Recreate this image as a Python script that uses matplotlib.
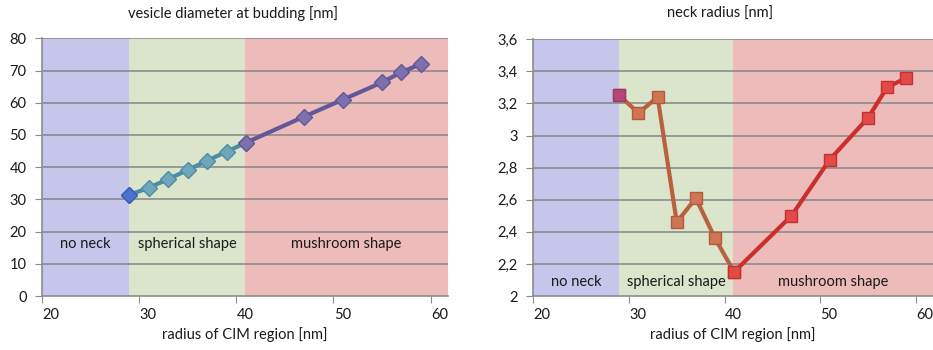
import matplotlib
matplotlib.use('Agg')
import matplotlib.pyplot as plt
import matplotlib.transforms as mtransforms

plt.rcParams['font.family'] = ['Lato', 'DejaVu Sans']

# regions (radius of CIM region, nm)
regionEdges = [20, 29, 40.9, 61.8]
regionNames = ['no neck', 'spherical shape', 'mushroom shape']
regionColors = ['#c6c6ec', '#dae5cc', '#eebbbb']

# vesicle diameter at budding
noNeckX = [29]
noNeckDiam = [31.4]
sphX = [29, 31, 33, 35, 37, 39, 41]
sphDiam = [31.4, 33.6, 36.3, 39.1, 42.0, 44.8, 47.6]
mushX = [41, 47, 51, 55, 57, 59]
mushDiam = [47.6, 55.7, 61.0, 66.3, 69.5, 72.0]

# neck radius
noNeckNeck = [3.25]
sphNeck = [3.25, 3.14, 3.24, 2.46, 2.61, 2.36, 2.15]
mushNeck = [2.15, 2.50, 2.85, 3.11, 3.30, 3.36]

diamTicks = [0, 10, 20, 30, 40, 50, 60, 70, 80]
neckTicks = [2, 2.2, 2.4, 2.6, 2.8, 3, 3.2, 3.4, 3.6]
neckLabels = ['2', '2,2', '2,4', '2,6', '2,8', '3', '3,2', '3,4', '3,6']
xTicks = [20, 30, 40, 50, 60]

fig = plt.figure(figsize=(9.33, 3.5), dpi=100)
ax1 = fig.add_axes([42/933, 54/350, 406/933, 257.7/350])
ax2 = fig.add_axes([533.3/933, 54/350, 399.7/933, 256.7/350])


def setupAxes(ax, yticks, ylabels, labelY):
    ax.set_xlim(regionEdges[0], regionEdges[-1])
    ax.set_ylim(yticks[0], yticks[-1])
    for i in range(len(regionNames)):
        ax.axvspan(regionEdges[i], regionEdges[i+1], color=regionColors[i], lw=0, zorder=0)
    for t in yticks[1:]:
        ax.axhline(t, color='#868686', lw=1.1, zorder=1)
    ax.set_yticks(yticks)
    ax.set_yticklabels(ylabels)
    ax.set_xticks(xTicks)
    for s in ['top', 'right']:
        ax.spines[s].set_visible(False)
    for s in ['left', 'bottom']:
        ax.spines[s].set_color('#8c8c8c')
        ax.spines[s].set_linewidth(1.2)
    ax.tick_params(axis='both', direction='out', length=5, color='#8c8c8c',
                   labelsize=10.5, labelcolor='#1a1a1a')
    ax.tick_params(axis='y', pad=6)
    offset = mtransforms.ScaledTranslation(9/100, 0, fig.dpi_scale_trans)
    for lab in ax.get_xticklabels():
        lab.set_transform(lab.get_transform() + offset)
    ax.set_xlabel('radius of CIM region [nm]', fontsize=10.5, color='#1a1a1a', labelpad=4)
    for i, name in enumerate(regionNames):
        cx = (regionEdges[i] + regionEdges[i+1]) / 2
        ax.text(cx, labelY, name, ha='center', va='center', fontsize=10.5, color='#1a1a1a', zorder=2)


setupAxes(ax1, diamTicks, [str(t) for t in diamTicks], 16.1)
fig.text(233/933, 1 - 14/350, 'vesicle diameter at budding [nm]', ha='center', va='center',
         fontsize=10.5, color='#1a1a1a')

ax1.plot(sphX, sphDiam, color='#4d8ca2', lw=3, marker='D', ms=8,
         mfc='#6fa6bc', mec='#4d8ca2', mew=1, zorder=3)
ax1.plot(mushX, mushDiam, color='#625899', lw=3, marker='D', ms=8,
         mfc='#7d70ad', mec='#625899', mew=1, zorder=3)
ax1.plot(noNeckX, noNeckDiam, lw=0, marker='D', ms=8,
         mfc='#4a72d0', mec='#3a5fb8', mew=1, zorder=4)

setupAxes(ax2, neckTicks, neckLabels, 2.085)
fig.text(720/933, 1 - 14/350, 'neck radius [nm]', ha='center', va='center',
         fontsize=10.5, color='#1a1a1a')

ax2.plot(sphX, sphNeck, color='#b9603f', lw=3, marker='s', ms=9,
         mfc='#cf7455', mec='#b25a3c', mew=1, zorder=3)
ax2.plot(mushX, mushNeck, color='#cc2e2e', lw=3, marker='s', ms=9,
         mfc='#e24a4a', mec='#c43030', mew=1, zorder=3)
ax2.plot(noNeckX, noNeckNeck, lw=0, marker='s', ms=9,
         mfc='#b4477a', mec='#9a3a66', mew=1, zorder=4)

fig.savefig('out.png', dpi=100)
